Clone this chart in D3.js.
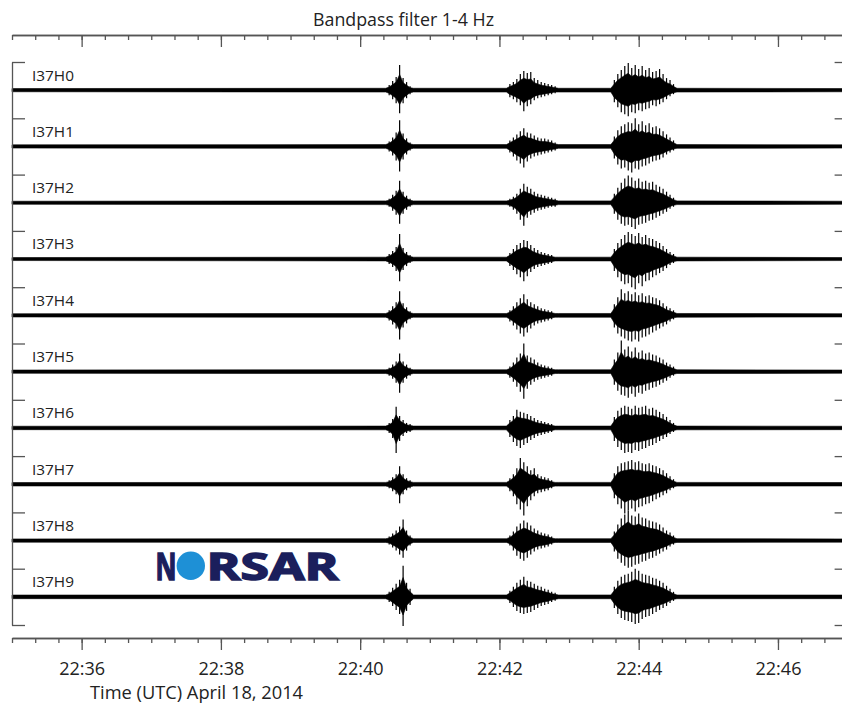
<!DOCTYPE html>
<meta charset="utf-8">
<style>
body { margin: 0; background: #fff; }
text { font-family: "Open Sans", sans-serif; fill: #222; }
.trace { fill: #000; stroke: #000; stroke-width: 0.6; stroke-linejoin: round; }
.spike { stroke: #000; stroke-width: 1.2; }
.frame path, .frame line { stroke: #555; stroke-width: 1.3; fill: none; }
</style>
<body></body>
<script src="https://d3js.org/d3.v7.min.js"></script>
<script>
// stations of the I37 array
const stations = ["I37H0", "I37H1", "I37H2", "I37H3", "I37H4", "I37H5", "I37H6", "I37H7", "I37H8", "I37H9"];

// background noise amplitude per station (same units as envelopes)
const noise = [1.6, 1.6, 1.5, 1.5, 1.6, 1.6, 1.7, 1.7, 1.6, 1.8];

// the three arrivals, envelope sampled every 3 s from these start times
const stepSec = 3;
const eventStarts = ["22:40:22", "22:42:06", "22:43:36"];

// arrival 1 (upper / lower envelope)
const e1Up = [
  [3, 5, 9, 13, 25, 12, 8, 4, 3],
  [3, 5, 9, 14, 26, 13, 8, 4, 3],
  [3, 4, 8, 12, 22, 11, 7, 4, 3],
  [3, 5, 8, 12, 25, 11, 7, 4, 3],
  [3, 5, 9, 13, 24, 12, 8, 4, 3],
  [3, 4, 7, 10, 18, 10, 7, 4, 3],
  [3, 5, 9, 21, 12, 8, 5, 4, 3],
  [3, 4, 7, 10, 18, 10, 6, 4, 3],
  [3, 4, 7, 10, 14, 21, 10, 5, 3],
  [3, 5, 9, 13, 17, 31, 14, 8, 3]
];
const e1Down = [
  [3, 5, 9, 13, 23, 13, 8, 4, 3],
  [3, 5, 9, 14, 25, 13, 8, 4, 3],
  [3, 4, 8, 12, 21, 11, 7, 4, 3],
  [3, 5, 8, 12, 22, 11, 7, 4, 3],
  [3, 5, 9, 13, 24, 12, 8, 4, 3],
  [3, 4, 7, 11, 21, 11, 7, 4, 3],
  [3, 5, 10, 25, 13, 8, 5, 4, 3],
  [3, 4, 7, 10, 19, 10, 6, 4, 3],
  [3, 4, 7, 10, 14, 17, 10, 5, 3],
  [3, 5, 9, 13, 17, 29, 14, 8, 3]
];

// arrival 2
const e2Up = [
  [3, 6, 8, 11, 16, 19, 17, 18, 12, 10, 8, 7, 6, 5, 4, 3],
  [3, 6, 9, 12, 15, 18, 14, 13, 11, 9, 8, 8, 7, 6, 4, 3],
  [3, 4, 6, 9, 14, 19, 16, 14, 11, 9, 8, 7, 6, 5, 4, 3],
  [3, 6, 10, 14, 16, 19, 18, 14, 11, 9, 7, 6, 5, 4, 3, 3],
  [3, 5, 9, 13, 17, 21, 16, 13, 11, 9, 7, 6, 5, 4, 3, 3],
  [3, 5, 9, 14, 18, 28, 16, 14, 12, 9, 7, 6, 5, 4, 3, 3],
  [3, 8, 12, 18, 16, 15, 14, 12, 10, 8, 7, 6, 5, 4, 3, 3],
  [3, 6, 10, 16, 26, 22, 18, 14, 16, 10, 8, 7, 6, 4, 3, 3],
  [3, 5, 9, 14, 17, 20, 18, 15, 12, 10, 8, 7, 6, 4, 3, 3],
  [3, 6, 10, 14, 17, 20, 16, 15, 13, 11, 10, 8, 7, 5, 4, 3]
];
const e2Down = [
  [3, 7, 9, 12, 15, 21, 16, 14, 10, 8, 7, 6, 5, 4, 3, 3],
  [3, 6, 10, 14, 17, 21, 15, 12, 10, 9, 8, 7, 6, 5, 4, 3],
  [3, 4, 7, 11, 17, 23, 15, 12, 10, 8, 7, 6, 5, 4, 4, 3],
  [3, 7, 11, 15, 18, 22, 17, 13, 10, 8, 7, 6, 5, 4, 3, 3],
  [3, 6, 10, 14, 18, 21, 17, 13, 10, 8, 7, 6, 5, 4, 3, 3],
  [3, 6, 10, 15, 20, 27, 17, 13, 10, 8, 7, 6, 5, 4, 3, 3],
  [3, 9, 14, 18, 20, 17, 15, 12, 10, 8, 7, 6, 5, 4, 3, 3],
  [3, 7, 12, 20, 25, 31, 22, 16, 12, 9, 8, 7, 6, 4, 3, 3],
  [3, 5, 10, 15, 18, 20, 17, 14, 11, 9, 8, 7, 6, 4, 3, 3],
  [3, 6, 10, 14, 16, 17, 16, 15, 13, 11, 9, 8, 7, 5, 4, 3]
];

// arrival 3
const e3Up = [
  [3, 10, 16, 20, 24, 27, 22, 25, 21, 24, 20, 22, 18, 19, 21, 16, 12, 10, 6, 3],
  [3, 10, 16, 20, 22, 24, 23, 28, 22, 25, 21, 23, 19, 20, 18, 15, 12, 9, 6, 3],
  [3, 9, 15, 20, 24, 27, 25, 22, 24, 21, 22, 20, 21, 18, 16, 14, 11, 8, 5, 3],
  [3, 10, 16, 20, 24, 27, 25, 23, 26, 22, 24, 21, 20, 18, 16, 13, 10, 7, 5, 3],
  [3, 11, 18, 26, 22, 24, 21, 23, 20, 22, 19, 20, 18, 17, 15, 12, 9, 7, 5, 3],
  [3, 12, 19, 31, 22, 25, 20, 24, 19, 21, 18, 19, 17, 16, 14, 12, 9, 7, 5, 3],
  [3, 11, 17, 20, 22, 21, 19, 22, 20, 21, 22, 19, 20, 18, 16, 14, 11, 8, 5, 3],
  [3, 11, 18, 21, 22, 23, 24, 22, 23, 21, 20, 21, 19, 18, 16, 14, 11, 8, 5, 3],
  [3, 9, 16, 22, 26, 30, 25, 24, 27, 23, 22, 20, 19, 18, 16, 13, 10, 8, 5, 3],
  [3, 10, 16, 20, 22, 23, 25, 28, 26, 23, 22, 21, 19, 18, 16, 14, 11, 8, 5, 3]
];
const e3Down = [
  [3, 12, 17, 22, 24, 26, 22, 23, 20, 21, 19, 18, 15, 16, 14, 12, 9, 6, 4, 3],
  [3, 12, 18, 22, 21, 24, 26, 22, 23, 20, 19, 17, 15, 14, 13, 11, 8, 6, 4, 3],
  [3, 11, 17, 21, 23, 22, 24, 26, 22, 21, 20, 18, 17, 15, 13, 11, 9, 6, 4, 3],
  [3, 12, 18, 22, 25, 24, 28, 30, 24, 27, 22, 21, 18, 16, 14, 12, 9, 6, 4, 3],
  [3, 12, 18, 21, 23, 25, 26, 24, 26, 22, 21, 19, 17, 15, 13, 11, 9, 6, 4, 3],
  [3, 13, 19, 23, 24, 26, 22, 25, 21, 22, 19, 18, 16, 15, 13, 11, 9, 6, 4, 3],
  [3, 13, 19, 22, 25, 24, 25, 22, 23, 21, 20, 18, 17, 15, 13, 11, 9, 6, 4, 3],
  [3, 14, 20, 24, 29, 26, 24, 27, 23, 22, 20, 19, 17, 15, 13, 11, 9, 6, 4, 3],
  [3, 11, 18, 22, 25, 27, 26, 24, 23, 21, 20, 18, 17, 15, 13, 11, 9, 6, 4, 3],
  [3, 11, 17, 21, 23, 24, 25, 27, 26, 22, 20, 19, 17, 15, 13, 11, 9, 6, 4, 3]
];

const timeStart = "22:35:00", timeEnd = "22:47:00";
const title = "Bandpass filter 1-4 Hz";
const xTitle = "Time (UTC) April 18, 2014";

const parseT = d3.utcParse("%Y-%m-%d %H:%M:%S");
const T = s => parseT("2014-04-18 " + s);

const W = 842, H = 706;
const svg = d3.select("body").append("svg")
    .attr("width", W)
    .attr("height", H);

const x = d3.scaleUtc()
    .domain([T(timeStart), T(timeEnd)])
    .range([12, 847.6]);

const y = d3.scaleBand()
    .domain(stations)
    .range([62, 625]);
const half = y.bandwidth() / 2;

const amp = d3.scaleLinear()
    .domain([-28, 28])
    .range([half, -half]);

// title
svg.append("text")
    .attr("x", 403.5).attr("y", 26)
    .attr("text-anchor", "middle")
    .attr("font-size", 17.5)
    .attr("textLength", 181).attr("lengthAdjust", "spacingAndGlyphs")
    .text(title);

// traces: dense core (area) + peak excursions (spikes) from the same envelope
const core = 0.62;
const ups = [e1Up, e2Up, e3Up], downs = [e1Down, e2Down, e3Down];
const area = d3.area()
    .x(d => x(d.t))
    .y0(d => amp(-Math.max(d.n, d.dn * core)))
    .y1(d => amp(Math.max(d.n, d.up * core)));

stations.forEach((s, i) => {
  const pts = [{t: x.domain()[0], up: noise[i], dn: noise[i], n: noise[i]}];
  eventStarts.forEach((st, k) => {
    const t0 = T(st);
    ups[k][i].forEach((u, j) => {
      pts.push({t: d3.utcSecond.offset(t0, j * stepSec), up: u, dn: downs[k][i][j], n: noise[i]});
    });
  });
  pts.push({t: x.domain()[1], up: noise[i], dn: noise[i], n: noise[i]});

  const g = svg.append("g")
      .attr("transform", "translate(0," + (y(s) + half) + ")");
  g.append("path")
      .datum(pts)
      .attr("class", "trace")
      .attr("d", area);
  g.selectAll(".spike")
    .data(pts.filter(d => d.up > 3 || d.dn > 3))
    .enter().append("line")
      .attr("class", "spike")
      .attr("x1", d => x(d.t)).attr("x2", d => x(d.t))
      .attr("y1", d => amp(d.up)).attr("y2", d => amp(-d.dn));

  svg.append("text")
      .attr("x", 32).attr("y", y(s) + 18.5)
      .attr("font-size", 15)
      .attr("textLength", 42).attr("lengthAdjust", "spacingAndGlyphs")
      .text(s);
});

// left / right brackets
const yb = d3.scaleLinear().domain([0, stations.length]).range([62, 625]);
const bounds = d3.range(stations.length + 1);
svg.append("g").attr("class", "frame")
    .attr("transform", "translate(12,0)")
    .call(d3.axisRight(yb).tickValues(bounds).tickSize(13).tickSizeOuter(0).tickFormat(""));
svg.append("g").attr("class", "frame")
    .attr("transform", "translate(847.6,0)")
    .call(d3.axisLeft(yb).tickValues(bounds).tickSize(13).tickSizeOuter(0).tickFormat(""));

// time axes (top and bottom)
function timeAxes(yPos, labels) {
  svg.append("g").attr("class", "frame")
      .attr("transform", "translate(0," + yPos + ")")
      .call(d3.axisBottom(x).ticks(d3.utcSecond.every(20)).tickSize(5).tickSizeOuter(0).tickFormat(""));
  const major = svg.append("g").attr("class", "frame")
      .attr("transform", "translate(0," + yPos + ")")
      .call(d3.axisBottom(x).ticks(d3.utcMinute.every(2)).tickSize(12).tickSizeOuter(0)
        .tickPadding(12)
        .tickFormat(labels ? d3.utcFormat("%H:%M") : ""));
  major.selectAll("text")
      .attr("font-size", 18)
      .attr("font-family", "Open Sans, sans-serif")
      .attr("fill", "#222")
      .attr("textLength", 46).attr("lengthAdjust", "spacingAndGlyphs");
}
timeAxes(35, false);
timeAxes(638, true);

svg.append("text")
    .attr("x", 196.5).attr("y", 699)
    .attr("text-anchor", "middle")
    .attr("font-size", 18)
    .attr("textLength", 213).attr("lengthAdjust", "spacingAndGlyphs")
    .text(xTitle);

// NORSAR logo
const logo = svg.append("g")
    .style("fill", "#1b1f5c").style("stroke", "#1b1f5c").style("stroke-width", 1.6);
logo.append("text")
    .attr("x", 155.5).attr("y", 579.5)
    .attr("font-family", "DejaVu Sans, sans-serif")
    .attr("font-weight", "bold")
    .attr("font-size", 38)
    .attr("textLength", 21).attr("lengthAdjust", "spacingAndGlyphs")
    .style("fill", "#1b1f5c")
    .text("N");
logo.append("circle")
    .attr("cx", 190.8).attr("cy", 565.8).attr("r", 14.2)
    .style("fill", "#1e90d6").style("stroke", "none");
logo.append("text")
    .attr("x", 206.5).attr("y", 579.5)
    .attr("font-family", "DejaVu Sans, sans-serif")
    .attr("font-weight", "bold")
    .attr("font-size", 38)
    .attr("textLength", 132).attr("lengthAdjust", "spacingAndGlyphs")
    .style("fill", "#1b1f5c")
    .text("RSAR");
</script>
